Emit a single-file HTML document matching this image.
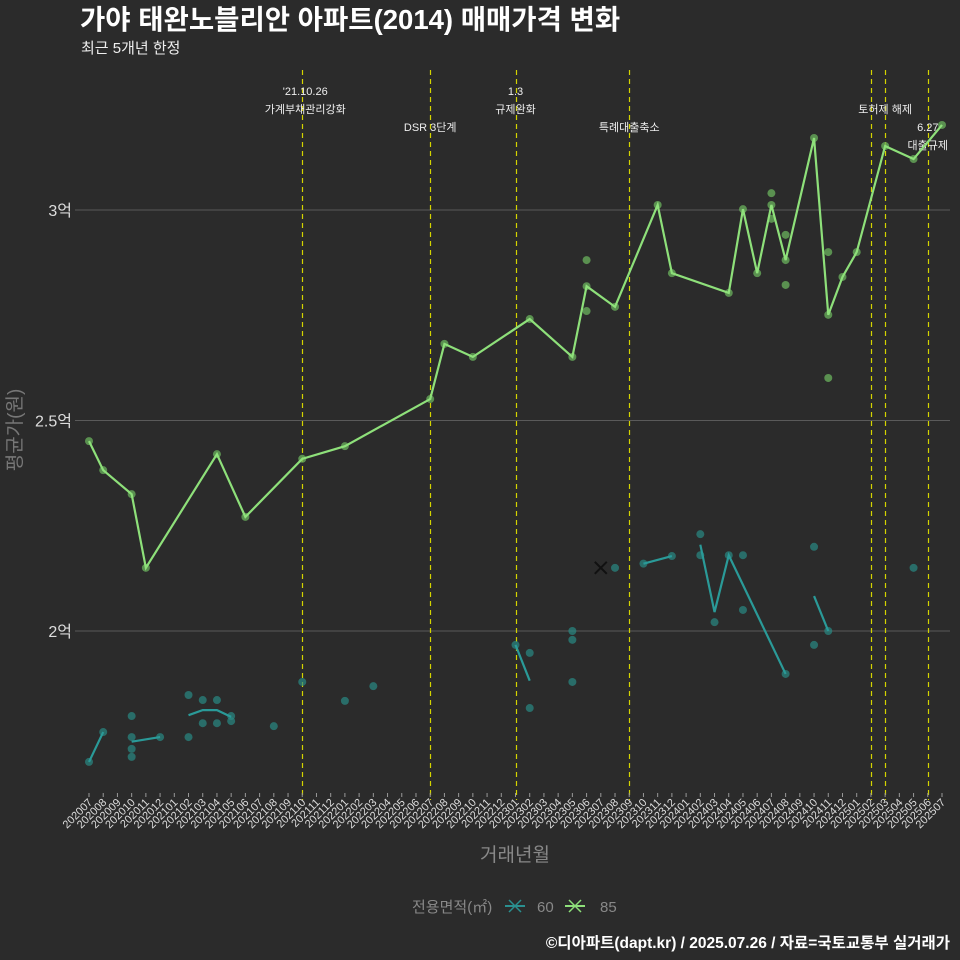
<!DOCTYPE html>
<html><head><meta charset="utf-8"><style>
body{margin:0;background:#2b2b2b;}
svg{display:block;font-family:"Liberation Sans","Noto Sans CJK KR",sans-serif;}
</style></head><body>
<svg id="chart" width="960" height="960" viewBox="0 0 960 960">
<rect width="960" height="960" fill="#2b2b2b"/>
<text x="80" y="29" font-size="27.5" font-weight="bold" fill="#fff">가야 태완노블리안 아파트(2014) 매매가격 변화</text>
<text x="81" y="53" font-size="15" fill="#eee">최근 5개년 한정</text>
<g id="grid"></g><g id="vlines"></g><g id="marks"></g><g id="axes"></g>
<text transform="translate(21,430) rotate(-90)" text-anchor="middle" font-size="19" fill="#777">평균가(원)</text>
<text x="515" y="861" text-anchor="middle" font-size="19" fill="#888">거래년월</text>
<g>
<text x="412" y="912" font-size="15" fill="#888">전용면적(㎡)</text>
<g><line x1="505" y1="906" x2="525" y2="906" stroke="#2a9090" stroke-width="2"/><path d="M509 900L521 912M521 900L509 912" stroke="#2a9090" stroke-width="1.5"/><text x="537" y="912" font-size="15" fill="#888">60</text></g>
<g><line x1="565" y1="906" x2="585" y2="906" stroke="#8ee07a" stroke-width="2"/><path d="M569 900L581 912M581 900L569 912" stroke="#8ee07a" stroke-width="1.5"/><text x="600" y="912" font-size="15" fill="#888">85</text></g>
</g>
<text x="950" y="948" text-anchor="end" font-size="15.5" font-weight="bold" fill="#fff">©디아파트(dapt.kr) / 2025.07.26 / 자료=국토교통부 실거래가</text>
</svg>
<script>
const months=[];for(let y=2020;y<=2025;y++)for(let m=1;m<=12;m++){const k=y*100+m;if(k>=202007&&k<=202507)months.push(String(k));}
const yTicks=[2,2.5,3];
const yTickLabels=["2억","2.5억","3억"];
const line85Idx=[0,1,3,4,9,11,15,18,24,25,27,31,34,35,37,40,41,45,46,47,48,49,51,52,53,54,56,58,60];
const line85Val=[2.451,2.382,2.325,2.150,2.420,2.271,2.409,2.439,2.551,2.682,2.651,2.741,2.651,2.819,2.770,3.012,2.850,2.803,3.002,2.850,3.012,2.881,3.171,2.751,2.841,2.900,3.152,3.121,3.202];
const extra85Idx=[35,35,48,48,49,49,52,52];
const extra85Val=[2.881,2.760,3.040,2.979,2.941,2.822,2.900,2.601];
const line60Idx=[0,1,null,3,5,null,7,8,9,10,null,30,31,null,39,41,null,43,44,45,49,null,51,52];
const line60Val=[1.689,1.760,null,1.737,1.748,null,1.800,1.812,1.812,1.796,null,1.967,1.882,null,2.160,2.178,null,2.205,2.045,2.180,1.898,null,2.083,2.0];
const pts60Idx=[0,1,3,3,3,3,5,7,7,8,8,9,9,10,10,13,15,18,20,30,31,31,34,34,34,37,39,41,43,43,44,45,46,46,49,51,51,52,58];
const pts60Val=[1.689,1.760,1.798,1.748,1.720,1.701,1.748,1.848,1.748,1.836,1.781,1.836,1.781,1.798,1.786,1.774,1.879,1.834,1.869,1.967,1.948,1.817,2.0,1.979,1.879,2.150,2.160,2.178,2.230,2.180,2.021,2.180,2.180,2.050,1.898,2.2,1.967,2.0,2.150];
const eventIdx=[15,24,30,38,55,56,59];
const eventLabels=[["'21.10.26","가계부채관리강화"],["","","DSR 3단계"],["1.3","규제완화"],["","","특례대출축소"],[],["","토허제 해제"],["","","6.27","대출규제"]];
const X=i=>89+i*(942-89)/60;
const Y=v=>210+(3-v)*421;
const NS="http://www.w3.org/2000/svg";
function mk(tag,attrs,parent){const e=document.createElementNS(NS,tag);for(const k in attrs)e.setAttribute(k,attrs[k]);parent.appendChild(e);return e;}
const grid=document.getElementById('grid'),vl=document.getElementById('vlines'),marks=document.getElementById('marks'),axes=document.getElementById('axes');
yTicks.forEach((v,i)=>{
 const l=mk('line',{x1:75,x2:950,y1:Y(v),y2:Y(v),stroke:'#5a5a5a','stroke-width':1},grid);
 
 
 const t=mk('text',{x:72,y:Y(v)+6,'text-anchor':'end','font-size':16,fill:'#ddd'},axes);
 t.textContent=yTickLabels[i];
 
 
});
months.forEach((m,i)=>{
 const tk=mk('line',{x1:X(i),x2:X(i),y1:793,y2:797,stroke:'#999'},axes);
 
 
 const t=mk('text',{transform:`translate(${X(i)+4},803) rotate(-45)`,'text-anchor':'end','font-size':11,fill:'#ddd'},axes);
 t.textContent=m;
 
 
});
eventIdx.forEach((ix,k)=>{
 const xx=Math.round(X(ix))+0.5;
 const l=mk('line',{x1:xx,x2:xx,y1:70,y2:800,stroke:'#d4d400','stroke-width':1.2,'stroke-dasharray':'5,4'},vl);
 
 
 eventLabels[k].forEach((s,j)=>{if(!s)return;
  const t=mk('text',{x:X(ix)+(ix===15?3:0),y:95+j*18,'text-anchor':'middle','font-size':11,fill:'#eee'},vl);
  t.textContent=s;
  
  
 });
});
pts60Idx.forEach((ix,k)=>{
 const c=mk('circle',{cx:X(ix),cy:Y(pts60Val[k]),r:4,fill:'#2a8a85','fill-opacity':0.7},marks);
 
 
});
let d='',pen=false;
line60Idx.forEach((ix,k)=>{if(ix===null){pen=false;return;}d+=(pen?'L':'M')+X(ix)+' '+Y(line60Val[k]);pen=true;});
const p60=mk('path',{d:d,fill:'none',stroke:'#2a9a98','stroke-width':2.2},marks);


const xm=mk('path',{d:`M${X(36)-6} ${Y(2.15)-6}L${X(36)+6} ${Y(2.15)+6}M${X(36)+6} ${Y(2.15)-6}L${X(36)-6} ${Y(2.15)+6}`,stroke:'#111','stroke-width':2},marks);


extra85Idx.forEach((ix,k)=>{
 const c=mk('circle',{cx:X(ix),cy:Y(extra85Val[k]),r:4,fill:'#66aa5a','fill-opacity':0.8},marks);
 
 
});
line85Idx.forEach((ix,k)=>{
 const c=mk('circle',{cx:X(ix),cy:Y(line85Val[k]),r:4,fill:'#66aa5a','fill-opacity':0.8},marks);
 
 
});
const p85=mk('path',{d:line85Idx.map((ix,k)=>(k?'L':'M')+X(ix)+' '+Y(line85Val[k])).join(''),fill:'none',stroke:'#8ee07a','stroke-width':2.2},marks);


</script>
</body></html>
